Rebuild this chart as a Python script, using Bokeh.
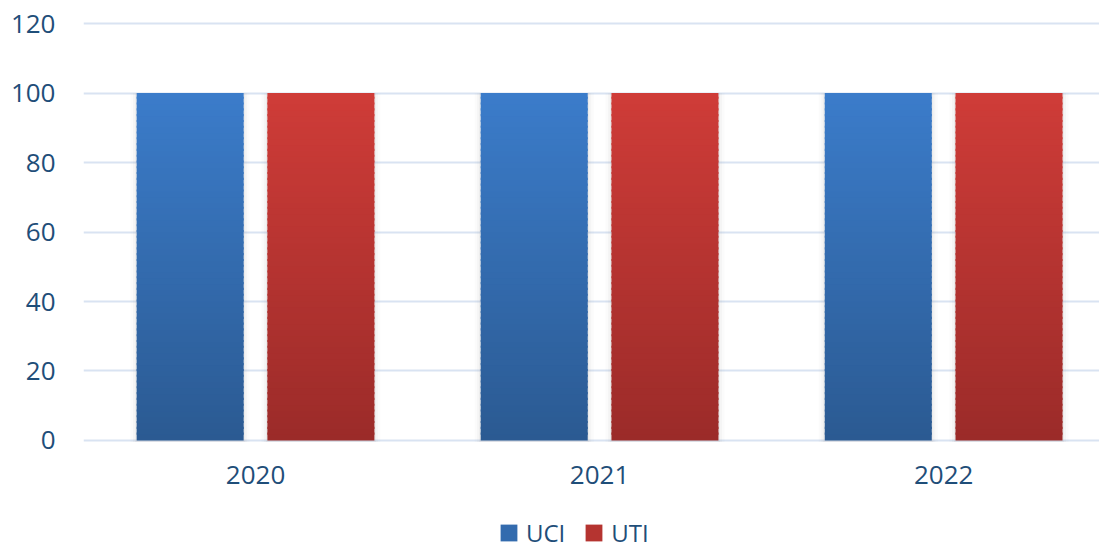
import numpy as np
from bokeh.plotting import figure
from bokeh.models import Range1d, FixedTicker, Legend, LegendItem, ColumnDataSource, LinearAxis
from bokeh.embed import file_html
from bokeh.resources import INLINE

years = ["2020", "2021", "2022"]
series_names = ["UCI", "UTI"]
uci = [100, 100, 100]
uti = [100, 100, 100]

FONT = "Open Sans"
TXT = "#1f4e79"

p = figure(width=1099, height=549, output_backend="svg", toolbar_location=None,
           x_range=Range1d(-0.5, 2.453), y_range=Range1d(-31.37, 120.58),
           x_axis_location=None)
p.min_border_left = 83
p.min_border_top = 21
p.min_border_right = 0
p.min_border_bottom = 0
p.outline_line_color = None
p.background_fill_color = "white"
p.border_fill_color = "white"

xaxis = LinearAxis(fixed_location=0)
p.add_layout(xaxis, "below")

p.xgrid.grid_line_color = None
p.ygrid.grid_line_color = "#d9e3f2"
p.ygrid.grid_line_width = 2
p.yaxis.ticker = FixedTicker(ticks=[0, 20, 40, 60, 80, 100, 120])
xaxis.ticker = FixedTicker(ticks=list(range(len(years))))
xaxis.major_label_overrides = {i: y for i, y in enumerate(years)}
for ax in (xaxis, p.yaxis[0]):
    ax.axis_line_color = None
    ax.major_tick_line_color = None
    ax.minor_tick_line_color = None
    ax.major_label_text_font = FONT
    ax.major_label_text_font_size = "26px"
    ax.major_label_text_color = TXT
p.yaxis.major_label_standoff = 22
xaxis.major_label_standoff = 20


def hex2rgb(h):
    h = h.lstrip("#")
    return np.array([int(h[i:i + 2], 16) for i in (0, 2, 4)], dtype=float)


def rgb2hex(c):
    return "#%02x%02x%02x" % tuple(int(round(v)) for v in c)


offsets = [-0.19, 0.19]
bar_w = 0.311
grads = [("#3b7cca", "#2b5a92"), ("#cf3c38", "#9b2b29")]
N = 60
x0 = np.arange(len(years))
for vals, off, (ctop, cbot) in zip([uci, uti], offsets, grads):
    xs = x0 + off
    vals = np.array(vals, dtype=float)
    # soft shadow
    for k, a in [(12, 0.035), (7, 0.05), (3, 0.08)]:
        p.vbar(x=xs, top=vals, bottom=-0.4, width=bar_w + k / 344.0,
               fill_color="#808080", fill_alpha=a, line_color=None)
    ct, cb = hex2rgb(ctop), hex2rgb(cbot)
    xs_all, bots, tops, cols = [], [], [], []
    for i in range(N):
        f0, f1 = i / N, (i + 1) / N
        col = rgb2hex(cb + (ct - cb) * (f0 + f1) / 2)
        for x, v in zip(xs, vals):
            xs_all.append(float(x))
            bots.append(float(v * f0))
            tops.append(float(v * f1 + (0.6 if i < N - 1 else 0)))
            cols.append(col)
    src = ColumnDataSource(dict(x=xs_all, b=bots, t=tops, c=cols))
    p.vbar(x="x", bottom="b", top="t", width=bar_w, fill_color="c",
           line_color=None, source=src)

leg_r = []
for (ctop, cbot) in grads:
    mid = rgb2hex((hex2rgb(ctop) + hex2rgb(cbot)) / 2)
    r = p.vbar(x=[-5], top=[0], width=0.1, fill_color=mid, line_color=None)
    leg_r.append(r)

legend = Legend(items=[LegendItem(label=n, renderers=[r]) for n, r in zip(series_names, leg_r)],
                orientation="horizontal", location=(415, 0))
legend.label_text_font = FONT
legend.label_text_font_size = "24px"
legend.label_text_color = TXT
legend.glyph_width = 21
legend.glyph_height = 21
legend.label_standoff = 7
legend.spacing = 18
legend.padding = 0
legend.margin = 0
legend.border_line_color = None
legend.background_fill_alpha = 0
p.add_layout(legend, "center")

open("out.html", "w").write(file_html(p, INLINE))
